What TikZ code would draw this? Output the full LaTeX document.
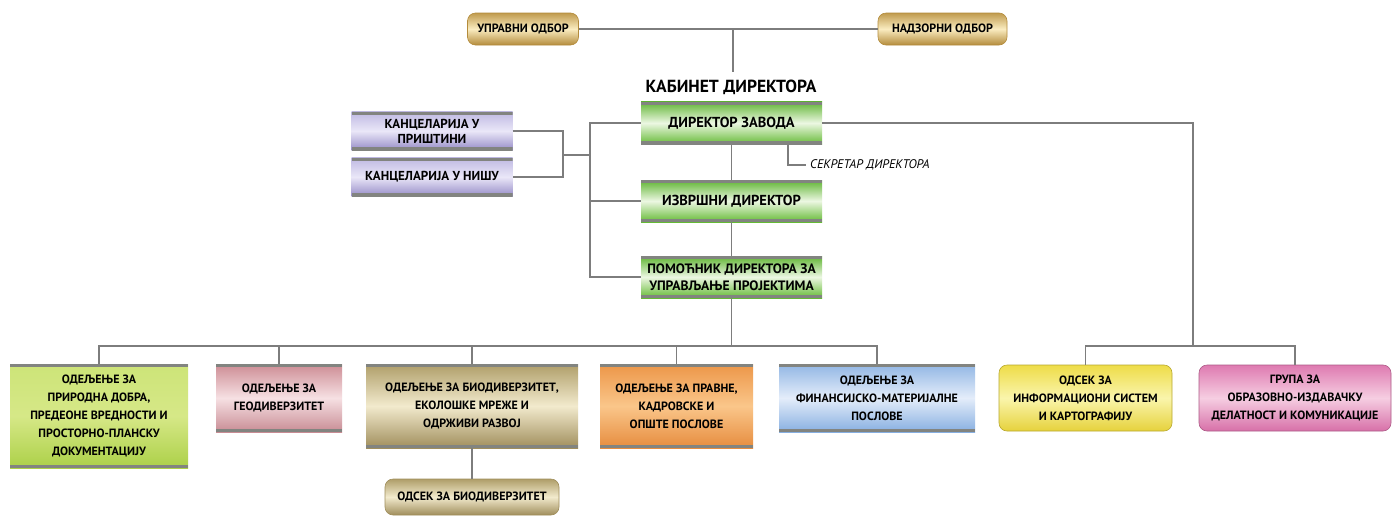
\documentclass[tikz,border=0pt]{standalone}
\usepackage{fontspec}
\setmainfont{PT Sans}
\begin{document}
\begin{tikzpicture}[x=1pt,y=1pt,
  conn/.style={draw={rgb,255:red,125;green,125;blue,125}, line width=1.6pt},
  basebox/.style={inner sep=0pt, align=center, font=\fontsize{12}{18}\selectfont\bfseries},
  bands/.style={path picture={
     \fill[bandc] (path picture bounding box.north west) rectangle ([yshift=-3pt]path picture bounding box.north east);
     \fill[bandc] (path picture bounding box.south west) rectangle ([yshift=3.5pt]path picture bounding box.south east);}},
  rbox/.style={basebox, bands},
  roundbox/.style={basebox, rounded corners=8pt, draw=#1, line width=0.6pt},
  roundbox/.default=gray!50,
]
\definecolor{bandc}{RGB}{130,132,128}
\definecolor{gTop}{RGB}{95,180,50}\definecolor{gMid}{RGB}{236,247,226}\definecolor{gBot}{RGB}{100,186,52}
\definecolor{pTop}{RGB}{190,184,226}\definecolor{pMid}{RGB}{234,231,248}\definecolor{pBot}{RGB}{148,138,198}
\definecolor{oTop}{RGB}{192,155,78}\definecolor{oMid}{RGB}{250,236,192}\definecolor{oBot}{RGB}{180,140,60}
\definecolor{aTop}{RGB}{205,228,120}\definecolor{aMid}{RGB}{214,232,135}\definecolor{aBot}{RGB}{172,208,72}
\definecolor{rTop}{RGB}{205,140,148}\definecolor{rMid}{RGB}{246,224,227}\definecolor{rBot}{RGB}{200,140,148}
\definecolor{kTop}{RGB}{175,158,105}\definecolor{kMid}{RGB}{242,234,205}\definecolor{kBot}{RGB}{160,142,92}
\definecolor{nTop}{RGB}{236,150,72}\definecolor{nMid}{RGB}{250,198,138}\definecolor{nBot}{RGB}{230,140,62}
\definecolor{bTop}{RGB}{145,182,228}\definecolor{bMid}{RGB}{228,237,250}\definecolor{bBot}{RGB}{135,175,225}
\definecolor{yTop}{RGB}{238,220,72}\definecolor{yMid}{RGB}{250,245,172}\definecolor{yBot}{RGB}{230,210,60}
\definecolor{mTop}{RGB}{222,122,176}\definecolor{mMid}{RGB}{246,206,226}\definecolor{mBot}{RGB}{215,112,168}

\useasboundingbox[fill=white] (0,0) rectangle (1393,-523);

% top boards
\node[roundbox=oBot, minimum width=111, minimum height=32, top color=oTop, bottom color=oBot, middle color=oMid, font=\fontsize{12}{14}\selectfont\bfseries] (upr) at (523,-29) {УПРАВНИ ОДБОР};
\node[roundbox=oBot, minimum width=129, minimum height=32, top color=oTop, bottom color=oBot, middle color=oMid, font=\fontsize{12}{14}\selectfont\bfseries] (nad) at (942.5,-29) {НАДЗОРНИ ОДБОР};

\node[font=\fontsize{17.5}{20}\selectfont\bfseries, inner sep=0pt] (kab) at (731,-87) {КАБИНЕТ ДИРЕКТОРА};

% director column
\node[rbox, minimum width=181, minimum height=43, top color=gTop, bottom color=gBot, middle color=gMid, font=\fontsize{14.5}{16}\selectfont\bfseries] (dir) at (731.5,-123) {ДИРЕКТОР ЗАВОДА};
\node[rbox, minimum width=181, minimum height=42, top color=gTop, bottom color=gBot, middle color=gMid, font=\fontsize{14.5}{16}\selectfont\bfseries] (izv) at (731.5,-201) {ИЗВРШНИ ДИРЕКТОР};
\node[rbox, minimum width=181, minimum height=42, top color=gTop, bottom color=gBot, middle color=gMid, font=\fontsize{13.6}{17}\selectfont\bfseries] (pom) at (731.5,-277) {ПОМОЋНИК ДИРЕКТОРА ЗА\\УПРАВЉАЊЕ ПРОЈЕКТИМА};

% offices
\node[rbox, minimum width=161, minimum height=39, top color=pTop, bottom color=pBot, middle color=pMid, font=\fontsize{13}{15}\selectfont\bfseries] (pri) at (432,-131) {КАНЦЕЛАРИЈА У\\ПРИШТИНИ};
\node[rbox, minimum width=161, minimum height=39, top color=pTop, bottom color=pBot, middle color=pMid, font=\fontsize{13}{15}\selectfont\bfseries] (nis) at (432,-177) {КАНЦЕЛАРИЈА У НИШУ};

\node[anchor=west, inner sep=0pt, font=\fontsize{12.5}{14}\selectfont\itshape] (sek) at (810,-165) {СЕКРЕТАР ДИРЕКТОРА};

% departments
\node[rbox, minimum width=178, minimum height=104, top color=aTop, bottom color=aBot, middle color=aMid] (b1) at (99,-416) {ОДЕЉЕЊЕ ЗА\\ПРИРОДНА ДОБРА,\\ПРЕДЕОНЕ ВРЕДНОСТИ И\\ПРОСТОРНО-ПЛАНСКУ\\ДОКУМЕНТАЦИЈУ};
\node[rbox, minimum width=126, minimum height=68, top color=rTop, bottom color=rBot, middle color=rMid] (b2) at (279,-398) {ОДЕЉЕЊЕ ЗА\\ГЕОДИВЕРЗИТЕТ};
\node[rbox, minimum width=212, minimum height=84, top color=kTop, bottom color=kBot, middle color=kMid] (b3) at (472,-406) {ОДЕЉЕЊЕ ЗА БИОДИВЕРЗИТЕТ,\\ЕКОЛОШКЕ МРЕЖЕ И\\ОДРЖИВИ РАЗВОЈ};
\node[rbox, minimum width=153, minimum height=84, top color=nTop, bottom color=nBot, middle color=nMid] (b4) at (676.5,-406) {ОДЕЉЕЊЕ ЗА ПРАВНЕ,\\КАДРОВСКЕ И\\ОПШТЕ ПОСЛОВЕ};
\node[rbox, minimum width=196, minimum height=68, top color=bTop, bottom color=bBot, middle color=bMid] (b5) at (877,-398) {ОДЕЉЕЊЕ ЗА\\ФИНАНСИЈСКО-МАТЕРИЈАЛНЕ\\ПОСЛОВЕ};
\node[roundbox=yBot!80!black, minimum width=173, minimum height=66, top color=yTop, bottom color=yBot, middle color=yMid] (b6) at (1085.5,-398) {ОДСЕК ЗА\\ИНФОРМАЦИОНИ СИСТЕМ\\И КАРТОГРАФИЈУ};
\node[roundbox=mBot!80!black, minimum width=192, minimum height=66, top color=mTop, bottom color=mBot, middle color=mMid] (b7) at (1295,-398) {ГРУПА ЗА\\ОБРАЗОВНО-ИЗДАВАЧКУ\\ДЕЛАТНОСТ И КОМУНИКАЦИЈЕ};
\node[roundbox=kBot, minimum width=174, minimum height=36, top color=kTop, bottom color=kBot, middle color=kMid] (ods) at (472,-497) {ОДСЕК ЗА БИОДИВЕРЗИТЕТ};

% connectors
\coordinate (tm) at (733,-29);
\coordinate (te) at (733,-72);
\coordinate (vx) at (590,0);
\coordinate (br) at (563,-155);
\coordinate (bh) at (731.5,-346);
\coordinate (rv) at (1193,-346);

\draw[conn] (upr.east) -- (nad.west);
\draw[conn] (tm) -- (te);
\draw[conn] (dir.south) -- (izv.north);
\draw[conn] (izv.south) -- (pom.north);
\draw[conn] ([xshift=56.5pt]dir.south) |- ([xshift=-4pt]sek.west);
\draw[conn] (dir.west) -- (dir.west -| vx) |- (pom.west);
\draw[conn] (izv.west) -- (izv.west -| vx);
\draw[conn] (pri.east) -| (br) |- (nis.east);
\draw[conn] (br) -- (br -| vx);
\draw[conn] (dir.east) -| (rv);
\draw[conn] (b6.north) |- (rv) -| (b7.north);
\draw[conn] (pom.south) -- (bh);
\draw[conn] (b1.north) |- (bh) -| (b5.north);
\draw[conn] (b2.north) -- (b2.north |- bh);
\draw[conn] (b3.north) -- (b3.north |- bh);
\draw[conn] (b4.north) -- (b4.north |- bh);
\draw[conn] (b3.south) -- (ods.north);
\end{tikzpicture}
\end{document}
